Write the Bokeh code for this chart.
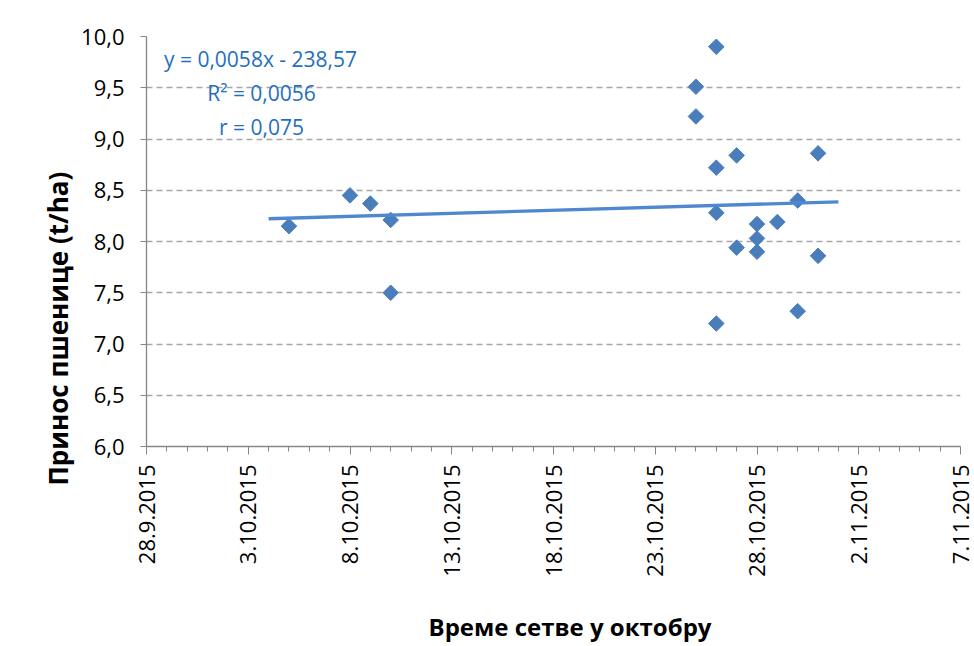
import math
import numpy as np
import pandas as pd
from bokeh.plotting import figure
from bokeh.models import ColumnDataSource, Range1d, FixedTicker, Label, Title
from bokeh.embed import file_html
from bokeh.resources import INLINE

# ---- data ----
sowing_dates = ["5.10.2015", "8.10.2015", "9.10.2015", "10.10.2015", "10.10.2015",
                "25.10.2015", "25.10.2015",
                "26.10.2015", "26.10.2015", "26.10.2015", "26.10.2015",
                "27.10.2015", "27.10.2015",
                "28.10.2015", "28.10.2015", "28.10.2015",
                "29.10.2015",
                "30.10.2015", "30.10.2015",
                "31.10.2015", "31.10.2015"]
wheat_yield = [8.15, 8.45, 8.37, 8.21, 7.50,
               9.51, 9.22,
               9.90, 8.72, 8.28, 7.20,
               8.84, 7.94,
               8.17, 8.03, 7.90,
               8.19,
               8.40, 7.32,
               8.86, 7.86]

x_tick_labels = ["28.9.2015", "3.10.2015", "8.10.2015", "13.10.2015", "18.10.2015",
                 "23.10.2015", "28.10.2015", "2.11.2015", "7.11.2015"]
y_ticks = [6.0, 6.5, 7.0, 7.5, 8.0, 8.5, 9.0, 9.5, 10.0]
y_tick_labels = ["6,0", "6,5", "7,0", "7,5", "8,0", "8,5", "9,0", "9,5", "10,0"]

eq_lines = ["y = 0,0058x - 238,57", "R\u00b2 = 0,0056", "r = 0,075"]
x_title = "Време сетве у октобру"
y_title = "Принос  пшенице (t/ha)"

# ---- conversions ----
DAY = 86400000.0
def to_ms(s):
    return float(pd.to_datetime(s, format="%d.%m.%Y").value // 10**6)

xs = [to_ms(s) for s in sowing_dates]
x_ticks = [to_ms(s) for s in x_tick_labels]
x_start, x_end = x_ticks[0], x_ticks[-1]
minor = list(np.arange(x_start, x_end + DAY / 2, DAY))

# linear trend (forecast 1 day backward/forward)
xd = (np.array(xs) - x_start) / DAY
slope, intercept = np.polyfit(xd, np.array(wheat_yield), 1)
t0, t1 = xd.min() - 1, xd.max() + 1
trend_x = [x_start + t0 * DAY, x_start + t1 * DAY]
trend_y = [intercept + slope * t0, intercept + slope * t1]

FONT = "Open Sans"
W, H = 974, 646
FL, FR, FT, FB = 146, 960, 36, 446  # frame in canvas px

p = figure(width=W, height=H, output_backend="svg", toolbar_location=None,
           x_range=Range1d(x_start, x_end), y_range=Range1d(6, 10),
           min_border_left=FL, min_border_right=W - FR,
           min_border_top=FT, min_border_bottom=H - FB)
p.outline_line_color = None
p.background_fill_color = "white"
p.border_fill_color = "white"

ms_per_px = (x_end - x_start) / (FR - FL)
y_per_px = 4.0 / (FB - FT)
def px2x(cx):
    return x_start + (cx - FL) * ms_per_px
def py2y(cy):
    return 10 - (cy - FT) * y_per_px

# axes
xa = p.xaxis[0]
xa.ticker = FixedTicker(ticks=x_ticks, minor_ticks=minor)
xa.major_label_overrides = {t: l for t, l in zip(x_ticks, x_tick_labels)}
xa.major_label_orientation = math.pi / 2
ya = p.yaxis[0]
ya.ticker = FixedTicker(ticks=y_ticks)
ya.major_label_overrides = {t: l for t, l in zip(y_ticks, y_tick_labels)}
for ax in (xa, ya):
    ax.axis_line_color = "#868686"
    ax.axis_line_width = 1.3
    ax.major_tick_line_color = "#868686"
    ax.minor_tick_line_color = "#868686"
    ax.major_tick_in = 0
    ax.minor_tick_in = 0
    ax.major_label_text_font = FONT
    ax.major_label_text_font_size = "22px"
    ax.major_label_text_color = "black"
xa.major_tick_out = 8
xa.minor_tick_out = 5
xa.major_label_standoff = 10
ya.major_tick_out = 6
ya.minor_tick_line_color = None
ya.major_label_standoff = 16

p.xgrid.grid_line_color = None
p.ygrid.grid_line_color = "#a6a6a6"
p.ygrid.grid_line_dash = "6 4"
p.ygrid.grid_line_width = 1.3

# data
src = ColumnDataSource(dict(x=xs, y=wheat_yield))
p.scatter("x", "y", source=src, marker="square", angle=math.pi / 4, size=11,
          fill_color="#4a7ebb", line_color="#4a7ebb")
p.line(trend_x, trend_y, line_color="#4f88d0", line_width=3.4)

# equation texts
for txt, (cx, cy) in zip(eq_lines, [(260, 58), (261, 92), (261, 126)]):
    p.add_layout(Label(x=px2x(cx), y=py2y(cy), text=txt, text_align="center",
                       text_baseline="middle", text_font=FONT,
                       text_font_size="21px", text_color="#1f6fc0"))

# spacer between the x tick labels and the x title
p.add_layout(Title(text=" ", standoff=12, text_font=FONT, text_font_size="10px",
                   text_color="white"), "below")
# axis titles
p.add_layout(Title(text=x_title, align="left", offset=282, standoff=0,
                   text_font=FONT, text_font_style="bold", text_font_size="24px",
                   text_color="black"), "below")
p.add_layout(Title(text=y_title, align="left", offset=-39, standoff=5,
                   text_font=FONT, text_font_style="bold", text_font_size="26px",
                   text_color="black"), "left")

open("out.html", "w").write(file_html(p, INLINE))
